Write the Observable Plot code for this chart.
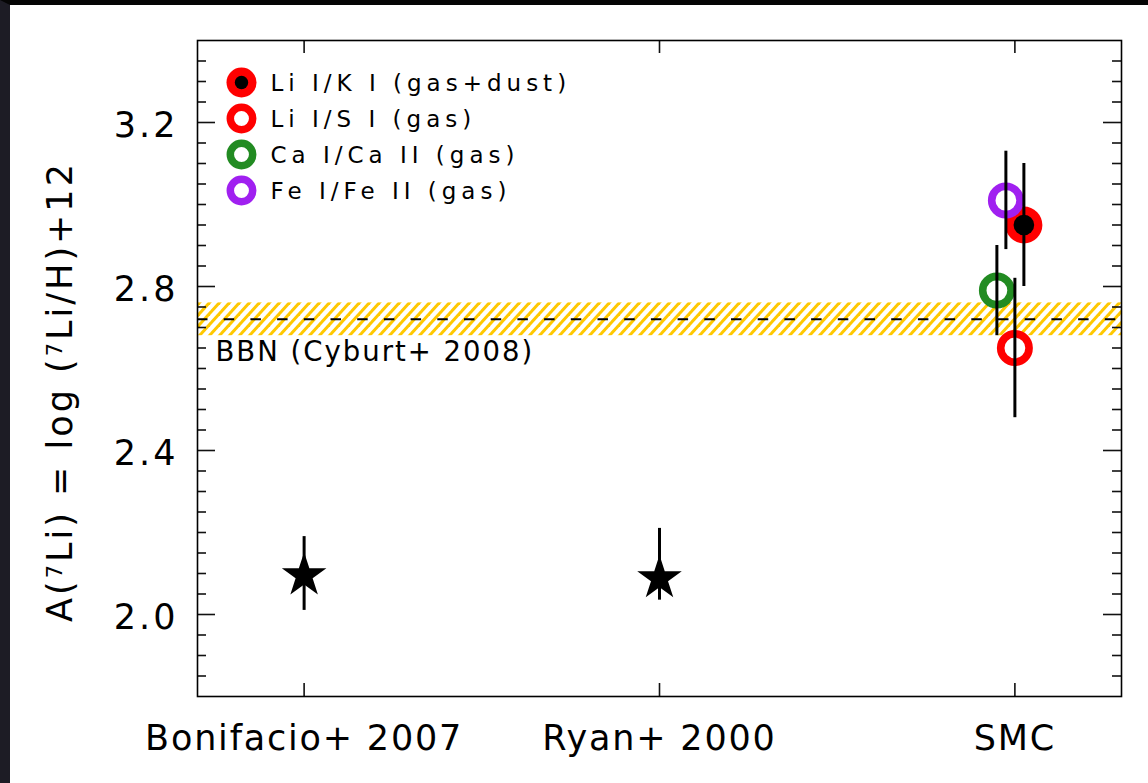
<!DOCTYPE html>
<html>
<head>
<meta charset="utf-8">
<script src="https://cdn.jsdelivr.net/npm/d3@7"></script>
<script src="https://cdn.jsdelivr.net/npm/@observablehq/plot@0.6"></script>
<style>
  html, body { margin: 0; padding: 0; background: #fff; }
  #wrap {
    position: absolute; left: 0; top: 0;
    width: 1138px; height: 778px;
    border-top: 5px solid #050505;
    border-left: 10px solid #1d1c25;
    background: #fff;
  }
  #wrap svg { display: block; font-family: "DejaVu Sans", sans-serif; }
  .ls-ytick { letter-spacing: 3px; }
  .ls-xtick { letter-spacing: 1.8px; }
  .ls-legend { letter-spacing: 5px; }
  .ls-bbn { letter-spacing: 2px; }
</style>
</head>
<body>
<div id="wrap"></div>
<script>
// ---------- data ----------
const categories = ["Bonifacio+ 2007", "Ryan+ 2000", "SMC"];

// literature measurements (stars)
const starRefs  = ["Bonifacio+ 2007", "Ryan+ 2000"];
const starValue = [2.095, 2.088];
const starLow   = [2.010, 2.035];
const starHigh  = [2.190, 2.210];

// SMC measurements
const smcSeries = ["Li I/K I (gas+dust)", "Li I/S I (gas)", "Ca I/Ca II (gas)", "Fe I/Fe II (gas)"];
const smcValue  = [2.95, 2.65, 2.79, 3.01];
const smcError  = [0.15, 0.17, 0.11, 0.12];

// BBN prediction
const bbnLabel  = "BBN (Cyburt+ 2008)";
const bbnValue  = 2.72;
const bbnError  = 0.04;

// axis ticks
const yTicks = [2.0, 2.4, 2.8, 3.2];

// ---------- styles (not data) ----------
const seriesStyle = {
  "Li I/K I (gas+dust)": {color: "#ff0000", filled: true,  dx: 9},
  "Li I/S I (gas)":      {color: "#ff0000", filled: false, dx: 0},
  "Ca I/Ca II (gas)":    {color: "#228b22", filled: false, dx: -18},
  "Fe I/Fe II (gas)":    {color: "#a020f0", filled: false, dx: -9}
};

const W = 1138, H = 778;
const mL = 187, mT = 35, mR = 27, mB = 87;
const fw = W - mL - mR, fh = H - mT - mB;
const font = "DejaVu Sans, sans-serif";

const stars = starRefs.map((r, i) => ({cat: categories.indexOf(r), v: starValue[i], lo: starLow[i], hi: starHigh[i]}));
const smc = smcSeries.map((s, i) => ({name: s, cat: categories.indexOf("SMC"), v: smcValue[i], e: smcError[i]}));
const bbn = [{v: bbnValue, e: bbnError, label: bbnLabel}];

const minor = d3.range(37, 68).map(k => +(k * 0.05).toFixed(2)).filter(v => !yTicks.some(t => Math.abs(t - v) < 1e-6));

const marks = [];

// BBN hatched band + dashed line
marks.push(Plot.rect(bbn, {y1: d => d.v - d.e, y2: d => d.v + d.e, fill: "url(#hatch)"}));
marks.push(Plot.ruleY(bbn, {y: "v", stroke: "#000", strokeWidth: 2, strokeDasharray: "10.5,16.2"}));
marks.push(Plot.text(bbn, {y: d => d.v - d.e, text: "label", frameAnchor: "left", dx: 18, dy: 6, textAnchor: "start", lineAnchor: "top", fontSize: 27.5, fill: "#000", className: "ls-bbn"}));

// stars
marks.push(Plot.ruleX(stars, {x: "cat", y1: "lo", y2: "hi", stroke: "#000", strokeWidth: 3}));
marks.push(Plot.dot(stars, {x: "cat", y: "v", symbol: "star", r: 14, fill: "#000", stroke: "none"}));

// SMC circles
for (const d of smc) {
  const st = seriesStyle[d.name];
  if (st.filled) {
    marks.push(Plot.dot([d], {x: "cat", y: "v", dx: st.dx, r: 18.5, fill: st.color, stroke: "none"}));
    marks.push(Plot.dot([d], {x: "cat", y: "v", dx: st.dx, r: 10.3, fill: "#000", stroke: "none"}));
  } else {
    marks.push(Plot.dot([d], {x: "cat", y: "v", dx: st.dx, r: 14.2, fill: "none", stroke: st.color, strokeWidth: 7.6}));
  }
}
for (const d of smc) {
  const st = seriesStyle[d.name];
  marks.push(Plot.ruleX([d], {x: "cat", y1: d => d.v - d.e, y2: d => d.v + d.e, dx: st.dx, stroke: "#000", strokeWidth: 3}));
}

// legend
smcSeries.forEach((s, i) => {
  const st = seriesStyle[s];
  const oy = 42 + 36 * i;
  if (st.filled) {
    marks.push(Plot.dot([s], {frameAnchor: "top-left", dx: 44, dy: oy, r: 15, fill: st.color, stroke: "none"}));
    marks.push(Plot.dot([s], {frameAnchor: "top-left", dx: 44, dy: oy, r: 6.7, fill: "#000", stroke: "none"}));
  } else {
    marks.push(Plot.dot([s], {frameAnchor: "top-left", dx: 44, dy: oy, r: 11.2, fill: "none", stroke: st.color, strokeWidth: 7.5}));
  }
  marks.push(Plot.text([s], {text: d => d, frameAnchor: "top-left", dx: 73, dy: oy + 1, textAnchor: "start", lineAnchor: "middle", fontSize: 23, fill: "#000", className: "ls-legend"}));
});

// ticks (inward, mirrored)
const tickStyle = {stroke: "#111", strokeWidth: 1.6};
marks.push(Plot.tickY(yTicks, {y: d => d, insetRight: fw - 18, ...tickStyle}));
marks.push(Plot.tickY(yTicks, {y: d => d, insetLeft: fw - 18, ...tickStyle}));
marks.push(Plot.tickY(minor, {y: d => d, insetRight: fw - 9, ...tickStyle}));
marks.push(Plot.tickY(minor, {y: d => d, insetLeft: fw - 9, ...tickStyle}));
marks.push(Plot.tickX(categories, {x: (d, i) => i, insetTop: fh - 13, ...tickStyle}));
marks.push(Plot.tickX(categories, {x: (d, i) => i, insetBottom: fh - 13, ...tickStyle}));

// tick labels
marks.push(Plot.text(yTicks, {y: d => d, text: d => d.toFixed(1), frameAnchor: "left", dx: -19, dy: 3, textAnchor: "end", lineAnchor: "middle", fontSize: 35, fill: "#000", className: "ls-ytick"}));
marks.push(Plot.text(categories, {x: (d, i) => i, text: d => d, frameAnchor: "bottom", dy: 29, textAnchor: "middle", lineAnchor: "top", fontSize: 35, fill: "#000", className: "ls-xtick"}));

marks.push(Plot.frame({stroke: "#000", strokeWidth: 1.6}));

const chart = Plot.plot({
  width: W, height: H,
  marginLeft: mL, marginTop: mT, marginRight: mR, marginBottom: mB,
  style: {fontFamily: font, background: "#fff", overflow: "visible"},
  x: {type: "linear", domain: [-0.3, 2.3], axis: null},
  y: {type: "linear", domain: [1.8, 3.4], axis: null},
  marks
});

const svg = d3.select(chart);

// letter spacing applied directly to text elements (robust across Plot versions)
const spacing = [["ls-ytick", 3], ["ls-xtick", 1.8], ["ls-legend", 5], ["ls-bbn", 2]];
for (const [cls, sp] of spacing) {
  svg.selectAll(`.${cls}, .${cls} text`).filter(function() { return this.tagName === "text"; })
    .attr("letter-spacing", sp + "px");
  svg.selectAll(`g.${cls}`).attr("letter-spacing", sp + "px");
}

// hatch pattern
const pw = 10, ph = 11;
const defs = svg.insert("defs", ":first-child");
const pat = defs.append("pattern").attr("id", "hatch").attr("patternUnits", "userSpaceOnUse")
  .attr("width", pw).attr("height", ph);
[-pw, 0, pw].forEach(o => {
  pat.append("line")
    .attr("x1", -pw + o).attr("y1", 2 * ph).attr("x2", 2 * pw + o).attr("y2", -ph)
    .attr("stroke", "#ffc800").attr("stroke-width", 3);
});

// y-axis title with superscripts
const yl = svg.append("text")
  .attr("transform", `translate(${61.7},${386.5}) rotate(-90)`)
  .attr("text-anchor", "middle")
  .attr("font-size", 35)
  .attr("letter-spacing", "3px")
  .attr("fill", "#000");
const parts = [["A(", 0], ["7", 1], ["Li) = log (", 0], ["7", 1], ["Li/H)+12", 0]];
let raised = false;
for (const [t, sup] of parts) {
  const ts = yl.append("tspan").text(t);
  if (sup && !raised) { ts.attr("dy", -10).attr("font-size", 21); raised = true; }
  else if (sup) { ts.attr("font-size", 21); }
  else if (!sup && raised) { ts.attr("dy", 10); raised = false; }
}

document.getElementById("wrap").appendChild(chart);
</script>
</body>
</html>
